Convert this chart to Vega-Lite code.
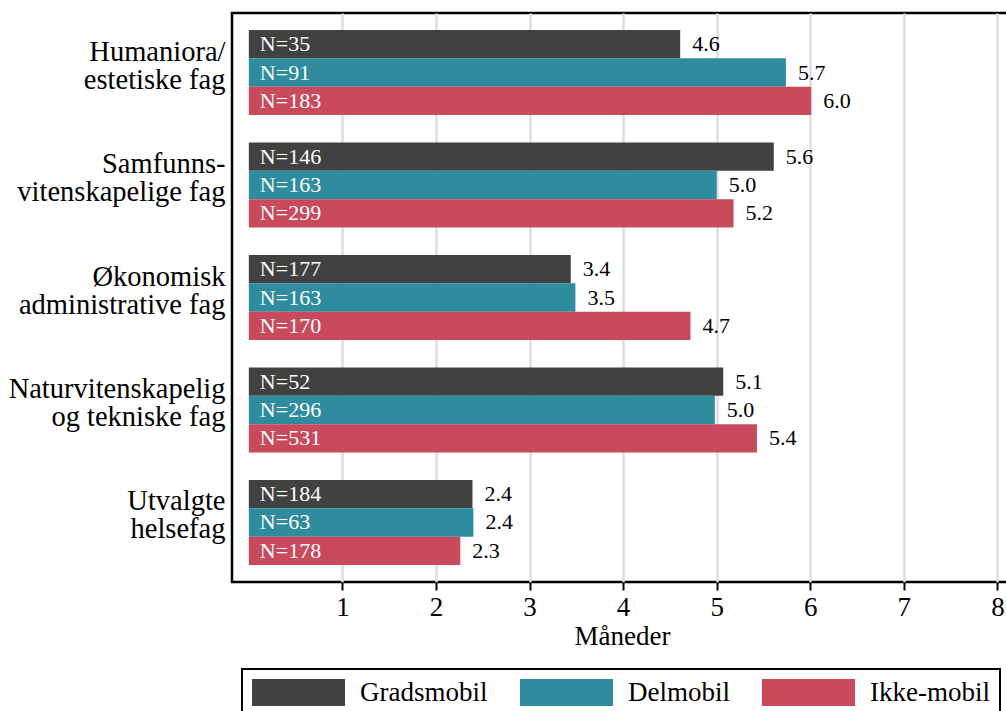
{
  "$schema": "https://vega.github.io/schema/vega-lite/v6.json",
  "width": 780,
  "height": 569,
  "autosize": {"type": "none"},
  "padding": {"left": 232, "top": 13, "right": 0, "bottom": 129},
  "background": "white",
  "config": {
    "font": "Liberation Serif",
    "view": {"stroke": "black", "strokeWidth": 2.5},
    "axis": {"labelFont": "Liberation Serif", "titleFont": "Liberation Serif", "labelColor": "black", "titleColor": "black"},
    "legend": {"strokeWidth": 2}
  },
  "data": {
    "values": [
      {"fag": "Humaniora/|estetiske fag", "gruppe": "Gradsmobil", "verdi": 4.61, "n": "N=35", "start": 0},
      {"fag": "Humaniora/|estetiske fag", "gruppe": "Delmobil", "verdi": 5.74, "n": "N=91", "start": 0},
      {"fag": "Humaniora/|estetiske fag", "gruppe": "Ikke-mobil", "verdi": 6.01, "n": "N=183", "start": 0},
      {"fag": "Samfunns-|vitenskapelige fag", "gruppe": "Gradsmobil", "verdi": 5.61, "n": "N=146", "start": 0},
      {"fag": "Samfunns-|vitenskapelige fag", "gruppe": "Delmobil", "verdi": 5.0, "n": "N=163", "start": 0},
      {"fag": "Samfunns-|vitenskapelige fag", "gruppe": "Ikke-mobil", "verdi": 5.18, "n": "N=299", "start": 0},
      {"fag": "Økonomisk|administrative fag", "gruppe": "Gradsmobil", "verdi": 3.44, "n": "N=177", "start": 0},
      {"fag": "Økonomisk|administrative fag", "gruppe": "Delmobil", "verdi": 3.49, "n": "N=163", "start": 0},
      {"fag": "Økonomisk|administrative fag", "gruppe": "Ikke-mobil", "verdi": 4.72, "n": "N=170", "start": 0},
      {"fag": "Naturvitenskapelig|og tekniske fag", "gruppe": "Gradsmobil", "verdi": 5.07, "n": "N=52", "start": 0},
      {"fag": "Naturvitenskapelig|og tekniske fag", "gruppe": "Delmobil", "verdi": 4.98, "n": "N=296", "start": 0},
      {"fag": "Naturvitenskapelig|og tekniske fag", "gruppe": "Ikke-mobil", "verdi": 5.43, "n": "N=531", "start": 0},
      {"fag": "Utvalgte|helsefag", "gruppe": "Gradsmobil", "verdi": 2.39, "n": "N=184", "start": 0},
      {"fag": "Utvalgte|helsefag", "gruppe": "Delmobil", "verdi": 2.40, "n": "N=63", "start": 0},
      {"fag": "Utvalgte|helsefag", "gruppe": "Ikke-mobil", "verdi": 2.26, "n": "N=178", "start": 0}
    ]
  },
  "encoding": {
    "y": {
      "field": "fag", "type": "nominal", "sort": null,
      "scale": {"paddingInner": 0.244, "paddingOuter": 0.151},
      "axis": {"title": null, "labelExpr": "split(datum.label, '|')", "labelFontSize": 28.5, "labelLineHeight": 28, "labelPadding": 7, "labelOffset": -21, "ticks": false, "domain": false, "labelLimit": 300}
    },
    "yOffset": {"field": "gruppe", "type": "nominal", "sort": ["Gradsmobil", "Delmobil", "Ikke-mobil"], "scale": {"paddingInner": 0, "paddingOuter": 0}}
  },
  "layer": [
    {
      "mark": {"type": "bar"},
      "encoding": {
        "x": {
          "field": "verdi", "type": "quantitative",
          "scale": {"domain": [-0.18, 8.156], "nice": false},
          "axis": {"title": "Måneder", "values": [1, 2, 3, 4, 5, 6, 7, 8], "format": "d", "labelFontSize": 27, "titleFontSize": 27, "titleFontWeight": "normal", "tickSize": 8, "tickWidth": 2, "tickColor": "black", "labelPadding": 4, "titlePadding": 3, "domain": false, "grid": true, "gridColor": "#dedede", "gridWidth": 2.5}
        },
        "x2": {"field": "start"},
        "color": {
          "field": "gruppe", "type": "nominal", "sort": ["Gradsmobil", "Delmobil", "Ikke-mobil"],
          "scale": {"domain": ["Gradsmobil", "Delmobil", "Ikke-mobil"], "range": ["#414141", "#2e8c9e", "#c84a5c"]},
          "legend": {
            "title": null, "orient": "none", "legendX": 10, "legendY": 656,
            "direction": "horizontal", "columns": 3,
            "symbolType": "M-1,-1H5.889V1H-1Z", "symbolSize": 729,
            "symbolStrokeWidth": 0, "symbolOpacity": 1,
            "labelFont": "Liberation Serif", "labelFontSize": 27, "labelColor": "black",
            "labelOffset": 81, "columnPadding": 32,
            "strokeColor": "black", "padding": 10, "fillColor": "white"
          }
        }
      }
    },
    {
      "mark": {"type": "text", "align": "left", "baseline": "middle", "dx": 11, "fontSize": 22, "color": "white", "font": "Liberation Serif"},
      "encoding": {"x": {"field": "start", "type": "quantitative"}, "text": {"field": "n"}}
    },
    {
      "mark": {"type": "text", "align": "left", "baseline": "middle", "dx": 12, "fontSize": 22, "color": "black", "font": "Liberation Serif"},
      "encoding": {"x": {"field": "verdi", "type": "quantitative"}, "text": {"field": "verdi", "format": ".1f"}}
    }
  ]
}
